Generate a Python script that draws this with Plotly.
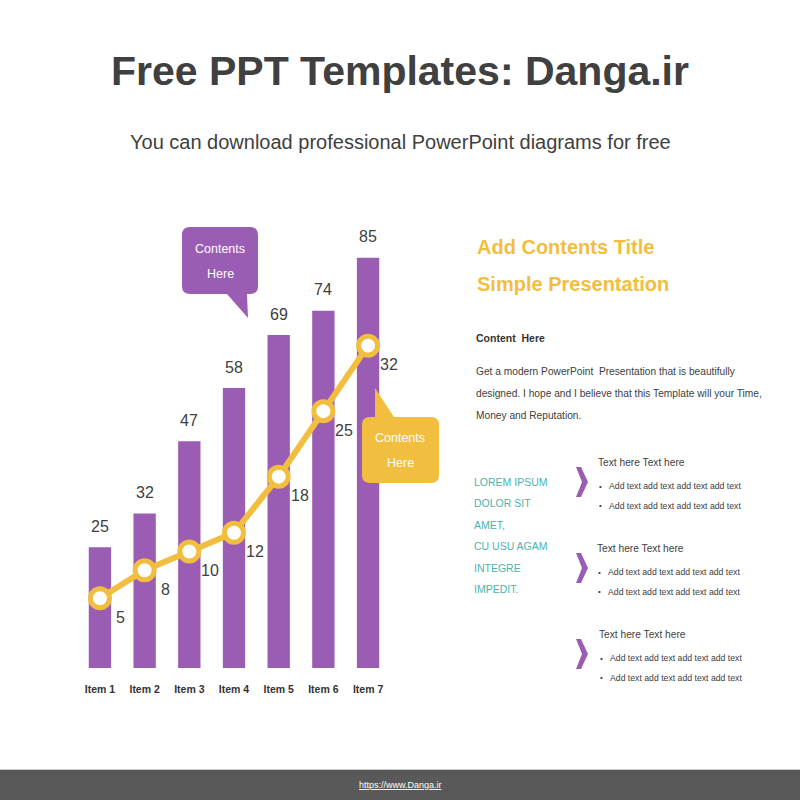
import plotly.graph_objects as go

# ---------------- data ----------------
categories = ["Item 1", "Item 2", "Item 3", "Item 4", "Item 5", "Item 6", "Item 7"]
bar_values = [25, 32, 47, 58, 69, 74, 85]
line_values = [5, 8, 10, 12, 18, 25, 32]

title_text = "Free PPT Templates: Danga.ir"
subtitle_text = "You can download professional PowerPoint diagrams for free"
side_title = ["Add Contents Title", "Simple Presentation"]
content_head = "Content  Here"
paragraph = ["Get a modern PowerPoint  Presentation that is beautifully",
             "designed. I hope and I believe that this Template will your Time,",
             "Money and Reputation."]
lorem_lines = ["LOREM IPSUM", "DOLOR SIT", "AMET,", "CU USU AGAM", "INTEGRE", "IMPEDIT."]
block_heads = ["Text here Text here", "Text here Text here", "Text here Text here"]
bullet_text = "Add text add text add text add text"
callout_lines = ["Contents", "Here"]
footer_url = "https://www.Danga.ir"

# ---------------- styles ----------------
PURPLE = "#9B5DB3"
YELLOW = "#F2BE3F"
TEAL = "#4DB3A9"
DARK = "#404040"
FONT = "Liberation Sans, Arial, sans-serif"

W = H = 800
def px(x): return x / W
def py(y): return 1 - y / H

baseline_px = 668
top_px = 224
y1_range = [0, 92]
y2_range = [-2.45, -2.45 + (baseline_px - top_px) / 9.357]

fig = go.Figure()
fig.add_trace(go.Bar(x=categories, y=bar_values, marker=dict(color=PURPLE, line=dict(width=0)),
                     hoverinfo="skip"))
fig.add_trace(go.Scatter(x=categories, y=line_values, yaxis="y2", mode="lines+markers",
                         line=dict(color=YELLOW, width=6),
                         marker=dict(size=19, color="white", line=dict(color=YELLOW, width=5)),
                         hoverinfo="skip", cliponaxis=False))

ann = []
for c, v in zip(categories, bar_values):
    ann.append(dict(x=c, y=v, xref="x", yref="y", text=str(v), showarrow=False,
                    yshift=21, font=dict(family=FONT, size=16, color=DARK)))
for c, v in zip(categories, line_values):
    ann.append(dict(x=c, y=v, xref="x", yref="y2", text=str(v), showarrow=False,
                    xshift=21, yshift=-19, font=dict(family=FONT, size=16, color=DARK)))

def text(x, y, t, size, color=DARK, bold=False, anchor="left"):
    ann.append(dict(x=px(x), y=py(y), xref="paper", yref="paper", text=t, showarrow=False,
                    xanchor=anchor, yanchor="middle",
                    font=dict(family=FONT, size=size, color=color,
                              weight="bold" if bold else "normal")))

text(400, 71, title_text, 41, bold=True, anchor="center")
text(400, 142, subtitle_text, 20, anchor="center")
text(475, 247, side_title[0], 20, YELLOW, bold=True)
text(475, 284, side_title[1], 20, YELLOW, bold=True)
text(474, 338, content_head, 10.5, "#333333", bold=True)
for i, line in enumerate(paragraph):
    text(474, 371 + 22 * i, line, 10.2)
for i, line in enumerate(lorem_lines):
    text(472, 482 + 21.4 * i, line, 10.5, TEAL)

block_y = [462, 548, 634]
block_x = [596, 595, 597]
for bx, by, head in zip(block_x, block_y, block_heads):
    text(bx, by, head, 10.2)
    for j in range(2):
        text(bx + 1, by + 24 + 19.5 * j, "•", 8)
        text(bx + 11, by + 24 + 19.5 * j, bullet_text, 8.7)

# callout texts
for cx, cy in [(220, 249), (400, 438)]:
    for k, t in enumerate(callout_lines):
        text(cx, cy + 25 * k, t, 12.5, "white", anchor="center")
# footer url
text(400, 785, "<u>" + footer_url + "</u>", 9, "white", anchor="center")

def path(points):
    s = ""
    for cmd, *pts in points:
        s += cmd
        for i in range(0, len(pts), 2):
            s += f" {px(pts[i]):.5f},{py(pts[i+1]):.5f}"
        s += " "
    return s + "Z"

purple_callout = path([("M", 190, 227), ("L", 250, 227), ("Q", 258, 227, 258, 235), ("L", 258, 286),
                       ("Q", 258, 294, 250, 294), ("L", 247, 294), ("L", 248, 318), ("L", 227, 294),
                       ("L", 190, 294), ("Q", 182, 294, 182, 286), ("L", 182, 235),
                       ("Q", 182, 227, 190, 227)])
yellow_callout = path([("M", 370, 417), ("L", 375, 417), ("L", 375, 388), ("L", 394, 417),
                       ("L", 431, 417), ("Q", 439, 417, 439, 425), ("L", 439, 475),
                       ("Q", 439, 483, 431, 483), ("L", 370, 483), ("Q", 362, 483, 362, 475),
                       ("L", 362, 425), ("Q", 362, 417, 370, 417)])
shapes = [
    dict(type="path", xref="paper", yref="paper", path=purple_callout, fillcolor=PURPLE, line=dict(width=0)),
    dict(type="path", xref="paper", yref="paper", path=yellow_callout, fillcolor=YELLOW, line=dict(width=0)),
    dict(type="rect", xref="paper", yref="paper", x0=0, x1=1, y0=0, y1=py(770), fillcolor="#595959",
         line=dict(width=0), layer="below"),
    dict(type="line", xref="paper", yref="paper", x0=0, x1=1, y0=py(769.5), y1=py(769.5),
         line=dict(color="#C8C8C8", width=1)),
]
for cy in [482, 568, 654]:
    shapes.append(dict(type="path", xref="paper", yref="paper",
                       path=path([("M", 576, cy - 15), ("L", 581, cy - 15), ("L", 588, cy),
                                  ("L", 581, cy + 15), ("L", 576, cy + 15), ("L", 582, cy)]),
                       fillcolor=PURPLE, line=dict(width=0)))

fig.update_layout(
    width=W, height=H, autosize=False,
    margin=dict(l=0, r=0, t=0, b=0, pad=0),
    paper_bgcolor="white", plot_bgcolor="rgba(0,0,0,0)",
    showlegend=False, bargap=0.5,
    xaxis=dict(domain=[px(77.6), px(390.4)], range=[-0.5, len(categories) - 0.5],
               showgrid=False, zeroline=False, showline=False,
               ticks="", tickangle=0, automargin=False,
               tickfont=dict(family=FONT, size=10.5, color="#333333", weight="bold"),
               ticklabelstandoff=13, fixedrange=True),
    yaxis=dict(domain=[py(baseline_px), py(top_px)], range=y1_range, visible=False, fixedrange=True),
    yaxis2=dict(domain=[py(baseline_px), py(top_px)], range=y2_range, overlaying="y", visible=False,
                fixedrange=True),
    annotations=ann, shapes=shapes,
)
fig.write_html("out.html", config={"responsive": False, "displayModeBar": False},
               post_script="document.body.style.margin='0';document.body.style.overflow='hidden';")
